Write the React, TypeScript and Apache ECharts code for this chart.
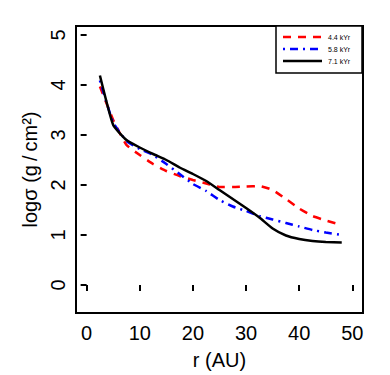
import React, { useEffect, useRef } from "react";
import * as echarts from "echarts";

const radius = [2.5, 5, 7.5, 10, 12.5, 15, 17.5, 20, 22.5, 25, 27.5, 30, 32.5, 35, 37.5, 40, 42.5, 45, 48];
const sigma44 = [3.97, 3.3, 2.8, 2.6, 2.42, 2.28, 2.18, 2.1, 2.03, 1.96, 1.96, 1.97, 1.98, 1.9, 1.72, 1.53, 1.38, 1.29, 1.2];
const sigma58 = [4.09, 3.25, 2.88, 2.72, 2.6, 2.42, 2.22, 2.02, 1.88, 1.7, 1.57, 1.48, 1.38, 1.31, 1.24, 1.17, 1.1, 1.05, 1.0];
const sigma71 = [4.19, 3.2, 2.9, 2.75, 2.62, 2.5, 2.35, 2.22, 2.08, 1.9, 1.72, 1.54, 1.35, 1.13, 0.99, 0.92, 0.88, 0.86, 0.85];
const seriesNames = ["4.4 kYr", "5.8 kYr", "7.1 kYr"];
const seriesColors = ["#ff0000", "#0000ff", "#000000"];
const seriesDash: (number[] | null)[] = [[8, 7], [2, 5, 8, 5], null];
const xTicks = [0, 10, 20, 30, 40, 50];
const yTicks = [0, 1, 2, 3, 4, 5];

const FONT = "Liberation Sans, Arial, Helvetica, sans-serif";

function pairs(ys: number[]) {
  return radius.map((r, i) => [r, ys[i]]);
}

export default function App() {
  const ref = useRef<HTMLDivElement>(null);
  useEffect(() => {
    document.body.style.margin = "0";
    if (!ref.current) return;
    const chart = echarts.init(ref.current, null, { renderer: "svg" });
    const allSeries = [sigma44, sigma58, sigma71];

    const legendLeft = 276;
    const legendTop = 26;
    const legendItems: any[] = [
      {
        type: "rect",
        z: 100,
        shape: { x: legendLeft, y: legendTop, width: 86, height: 47 },
        style: { fill: "#fff", stroke: "#000", lineWidth: 1.5 },
      },
    ];
    seriesNames.forEach((name, i) => {
      const cy = legendTop + 11 + i * 12;
      legendItems.push({
        type: "line",
        z: 101,
        shape: { x1: legendLeft + 7, y1: cy, x2: legendLeft + 46, y2: cy },
        style: {
          stroke: seriesColors[i],
          lineWidth: 2.5,
          lineDash: seriesDash[i] || undefined,
        },
      });
      legendItems.push({
        type: "text",
        z: 101,
        x: legendLeft + 52,
        y: cy,
        style: {
          text: name,
          fontSize: 7,
          fontFamily: FONT,
          fill: "#000",
          align: "left",
          verticalAlign: "middle",
        },
      });
    });

    chart.setOption({
      animation: false,
      backgroundColor: "#fff",
      textStyle: { fontFamily: FONT },
      grid: {
        left: 76,
        right: 27,
        top: 26,
        bottom: 62,
        show: true,
        borderColor: "#000",
        borderWidth: 2,
        backgroundColor: "transparent",
      },
      xAxis: {
        type: "value",
        min: -2,
        max: 52,
        name: "r (AU)",
        nameLocation: "middle",
        nameGap: 37,
        nameTextStyle: { fontSize: 20, fontFamily: FONT, color: "#000" },
        axisLine: { show: false },
        splitLine: { show: false },
        axisTick: {
          show: true,
          length: 6,
          customValues: xTicks,
          lineStyle: { color: "#000", width: 2 },
        },
        axisLabel: {
          customValues: xTicks,
          fontSize: 20,
          margin: 10,
          color: "#000",
          fontFamily: FONT,
        },
      },
      yAxis: {
        type: "value",
        min: -0.56,
        max: 5.18,
        name: "logσ (g\u2009/\u2009cm²)",
        nameLocation: "middle",
        nameGap: 30,
        nameRotate: 90,
        nameTextStyle: { fontSize: 20, fontFamily: FONT, color: "#000" },
        axisLine: { show: false },
        splitLine: { show: false },
        axisTick: {
          show: true,
          length: 6,
          customValues: yTicks,
          lineStyle: { color: "#000", width: 2 },
        },
        axisLabel: {
          customValues: yTicks,
          rotate: 90,
          fontSize: 20,
          margin: 8,
          color: "#000",
          fontFamily: FONT,
        },
      },
      series: allSeries.map((ys, i) => ({
        name: seriesNames[i],
        type: "line",
        data: pairs(ys),
        showSymbol: false,
        symbol: "none",
        smooth: 0.15,
        lineStyle: { color: seriesColors[i], width: 2.5, type: seriesDash[i] || "solid" },
        itemStyle: { color: seriesColors[i] },
      })),
      graphic: legendItems,
    });
    return () => chart.dispose();
  }, []);
  return <div ref={ref} style={{ width: 390, height: 375 }} />;
}
